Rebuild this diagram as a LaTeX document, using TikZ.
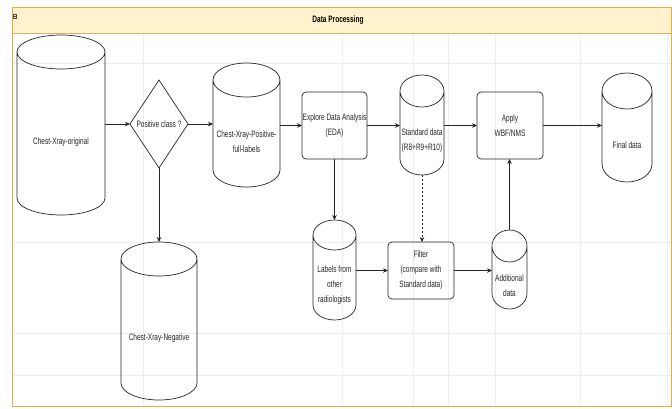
\documentclass[tikz,border=0pt]{standalone}
\usepackage{fontspec}
\newfontfamily\diagfont[FakeStretch=0.7]{Liberation Sans}
\usetikzlibrary{arrows.meta, shapes.geometric, calc}
\definecolor{laneline}{RGB}{236,170,70}
\definecolor{lanefill}{RGB}{255,242,204}
\definecolor{lanesep}{RGB}{214,182,86}
\definecolor{gridgray}{RGB}{238,238,238}

% database cylinder: name, x, y, width, height, end radius, text
\newcommand{\dbcyl}[7]{%
  \node[cylbox, minimum width=#4pt, minimum height=#5pt] (#1) at (#2,#3) {};
  \draw[shape line] ($(#1.north west)+(0,-#6)$) -- ($(#1.south west)+(0,#6)$)
    arc[start angle=180, end angle=360, x radius=#4pt/2, y radius=#6pt]
    -- ($(#1.north east)+(0,-#6)$)
    arc[start angle=0, end angle=360, x radius=#4pt/2, y radius=#6pt];
  \node[txt] at ($(#1.center)+(0,-#6)$) {#7};
}

\begin{document}
\begin{tikzpicture}[x=1pt, y=1pt,
  txt/.style={font=\diagfont\fontsize{9.3}{15}\selectfont, align=center, text=black!85},
  cylbox/.style={inner sep=0, outer sep=0},
  shape line/.style={line width=0.7pt, black!85},
  proc/.style={draw=black!85, line width=0.7pt, rounded corners=4pt, inner sep=0, outer sep=0, txt},
  decision/.style={draw=black!85, line width=0.7pt, diamond, inner sep=0, outer sep=0, minimum width=58pt, minimum height=88pt},
  flow/.style={-{Stealth[length=5pt, width=4.5pt]}, line width=0.7pt, black!85},
  gridline/.style={gridgray, line width=0.5pt}]
\useasboundingbox (0,0) rectangle (672,408);
\fill[white] (0,0) rectangle (672,408);

% swimlane
\foreach \gx in {143,342,413,448,495,580,667}
  \draw[gridline] (\gx,2) -- (\gx,375);
\foreach \gy in {345,166,75,33}
  \draw[gridline] (12,\gy) -- (671,\gy);
\fill[lanefill] (12,375) rectangle (671,400);
\draw[lanesep, line width=0.8pt] (12,375) -- (671,375);
\draw[laneline, line width=1pt] (12,2) rectangle (671,400);
\draw[black!70, line width=0.4pt] (13.5,389.5) rectangle (16.5,393.5);
\draw[black!70, line width=0.4pt] (14.2,391.5) -- (15.8,391.5);
\node[font=\diagfont\bfseries\fontsize{9.3}{10}\selectfont] (title) at (338,388) {Data Processing};

% top row
\dbcyl{orig}{61}{283}{88}{180}{17}{Chest-Xray-original}
\node[decision] (pos) at (159,284) {};
\node[txt] at (pos) {Positive class ?};
\dbcyl{posfull}{246.5}{283}{67}{124}{17}{Chest-Xray-Positive-\\full-labels}
\node[proc, minimum width=65pt, minimum height=67pt] (eda) at (334.5,282.5) {Explore Data Analysis\\(EDA)};
\dbcyl{std}{422}{283}{44}{100}{16}{Standard data\\(R8+R9+R10)}
\node[proc, minimum width=66pt, minimum height=67pt] (wbf) at (510,282.5) {Apply\\WBF/NMS};
\dbcyl{final}{627}{280.5}{50}{109}{18}{Final data}

% bottom row
\dbcyl{neg}{159}{87}{76}{158}{17}{Chest-Xray-Negative}
\dbcyl{radio}{334.5}{138}{43}{100}{15}{Labels from\\other\\radiologists}
\node[proc, minimum width=66pt, minimum height=57pt] (filter) at (421,137.5) {Filter\\(compare with\\Standard data)};
\dbcyl{extra}{509.5}{138.5}{35}{79}{16}{Additional\\data}

% connectors
\draw[flow] (orig.east |- pos) -- (pos.west);
\draw[flow] (pos.east) -- (pos.east -| posfull.west);
\draw[flow] (posfull.east |- eda) -- (eda.west);
\draw[flow] (eda.east) -- (eda.east -| std.west);
\draw[flow] (std.east |- wbf) -- (wbf.west);
\draw[flow] (wbf.east) -- (wbf.east -| final.west);
\draw[flow] (pos.south) -- (neg.north);
\draw[flow] (eda.south) -- (eda.south |- radio.north);
\draw[flow] (radio.east |- filter) -- (filter.west);
\draw[flow] (filter.east) -- (filter.east -| extra.west);
\draw[flow] (extra.north) -- (extra.north |- wbf.south);
\draw[flow, dash pattern=on 2pt off 2pt] (std.south) -- (std.south |- filter.north);
\end{tikzpicture}
\end{document}
